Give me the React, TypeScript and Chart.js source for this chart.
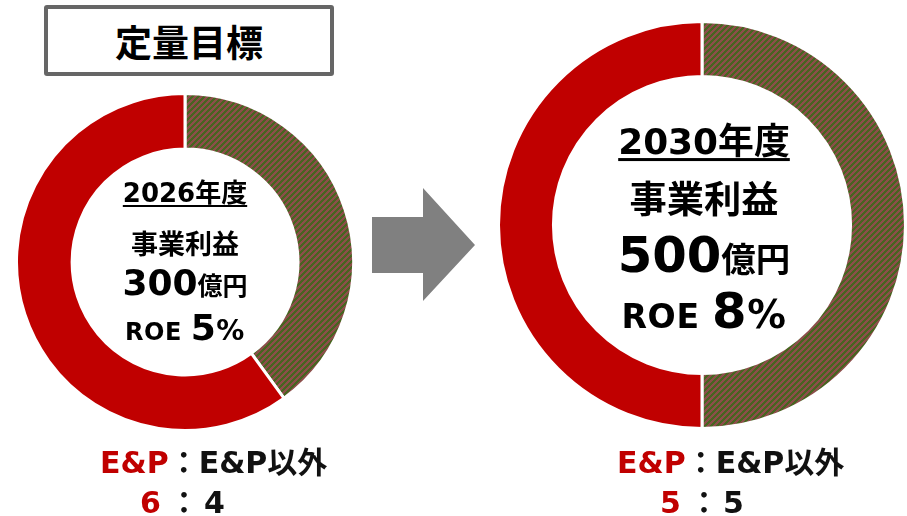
import React, { useEffect, useRef } from 'react';
import { Chart, registerables } from 'chart.js';

Chart.register(...registerables);

// ---- data ----
const categories = ['E&P以外', 'E&P'];
const values2026 = [4, 6];
const values2030 = [5, 5];
const yearLabels = ['2026年度', '2030年度'];
const profitValues = ['300', '500'];
const roeValues = ['5', '8'];
const ratio2026 = ['6', '4'];
const ratio2030 = ['5', '5'];

const RED = '#C00000';
const FONT = '"DejaVu Sans", "Noto Sans CJK JP", sans-serif';

function makePattern(ctx: CanvasRenderingContext2D) {
  const s = 6;
  const c = document.createElement('canvas');
  c.width = s;
  c.height = s;
  const g = c.getContext('2d')!;
  const img = g.createImageData(s, s);
  for (let y = 0; y < s; y++) {
    for (let x = 0; x < s; x++) {
      const k = (x + y) % s;
      const i = (y * s + x) * 4;
      const col = k < 3 ? [72, 100, 32] : [140, 78, 74];
      img.data[i] = col[0];
      img.data[i + 1] = col[1];
      img.data[i + 2] = col[2];
      img.data[i + 3] = 255;
    }
  }
  g.putImageData(img, 0, 0);
  return ctx.createPattern(c, 'repeat')!;
}

function Ring(props: { values: number[]; size: number; left: number; top: number; cutout: string }) {
  const ref = useRef<HTMLCanvasElement>(null);
  useEffect(() => {
    const canvas = ref.current!;
    const ctx = canvas.getContext('2d')!;
    const pattern = makePattern(ctx);
    const chart = new Chart(canvas, {
      type: 'doughnut',
      data: {
        labels: categories,
        datasets: [
          {
            data: props.values,
            backgroundColor: [pattern, RED],
            borderColor: '#ffffff',
            borderWidth: 3,
            hoverOffset: 0,
          },
        ],
      },
      options: {
        animation: false,
        responsive: false,
        maintainAspectRatio: false,
        cutout: props.cutout,
        layout: { padding: 0 },
        plugins: { legend: { display: false }, tooltip: { enabled: false } },
        events: [],
      },
    });
    return () => chart.destroy();
  }, []);
  return (
    <canvas
      ref={ref}
      width={props.size}
      height={props.size}
      style={{ position: 'absolute', left: props.left, top: props.top, width: props.size, height: props.size }}
    />
  );
}

const centered = (x: number, y: number): React.CSSProperties => ({
  position: 'absolute',
  left: x,
  top: y,
  transform: 'translate(-50%, -50%)',
  whiteSpace: 'nowrap',
  fontFamily: FONT,
  fontWeight: 'bold',
  color: '#000',
  lineHeight: 1,
});

function CenterText(props: { cx: number; scale: number; yYear: number; yProfit: number; yValue: number; yRoe: number; idx: number }) {
  const s = props.scale;
  return (
    <>
      <div
        style={{
          ...centered(props.cx, props.yYear),
          fontSize: 26 * s,
          textDecoration: 'underline',
          textDecorationThickness: 2 * s,
          textUnderlineOffset: 3 * s,
        }}
      >
        {yearLabels[props.idx]}
      </div>
      <div style={{ ...centered(props.cx, props.yProfit), fontSize: 27 * s }}>事業利益</div>
      <div style={{ ...centered(props.cx, props.yValue), fontSize: 25 * s }}>
        <span style={{ fontSize: 36 * s }}>{profitValues[props.idx]}</span>億円
      </div>
      <div style={{ ...centered(props.cx, props.yRoe), fontSize: 24 * s, letterSpacing: 0.5 * s }}>
        ROE <span style={{ fontSize: 36 * s }}>{roeValues[props.idx]}</span>
        <span style={{ fontSize: 28 * s }}>%</span>
      </div>
    </>
  );
}

function Ratio(props: { x: number; y: number; nums: string[]; numX: number[] }) {
  const base: React.CSSProperties = {
    position: 'absolute',
    whiteSpace: 'pre',
    fontFamily: FONT,
    fontWeight: 'bold',
    fontSize: 30,
    lineHeight: 1,
  };
  return (
    <>
      <div style={{ ...base, left: props.x, top: props.y }}>
        <span style={{ color: RED }}>E&amp;P</span>
        <span style={{ color: '#111' }}>：E&amp;P以外</span>
      </div>
      <div style={{ ...base, left: props.numX[0], top: props.y + 40, color: RED }}>{props.nums[0]}</div>
      <div style={{ ...base, left: props.numX[1], top: props.y + 40, color: '#111' }}>：</div>
      <div style={{ ...base, left: props.numX[2], top: props.y + 40, color: '#111' }}>{props.nums[1]}</div>
    </>
  );
}

export default function App() {
  useEffect(() => {
    document.body.style.margin = '0';
  }, []);
  return (
    <div style={{ position: 'relative', width: 907, height: 516, background: '#fff', overflow: 'hidden' }}>
      <div
        style={{
          position: 'absolute',
          left: 44,
          top: 5,
          width: 290,
          height: 71,
          boxSizing: 'border-box',
          border: '4px solid #666666',
          borderRadius: 3,
          display: 'flex',
          alignItems: 'center',
          justifyContent: 'center',
          fontFamily: FONT,
          fontWeight: 'bold',
          fontSize: 37,
          color: '#000',
        }}
      >
        定量目標
      </div>

      <Ring values={values2026} size={340} left={15} top={92} cutout="67%" />
      <Ring values={values2030} size={410} left={497} top={20} cutout="73%" />

      <CenterText cx={185} scale={1} yYear={193} yProfit={244} yValue={283} yRoe={328} idx={0} />
      <CenterText cx={704} scale={1.38} yYear={142} yProfit={201} yValue={256} yRoe={312} idx={1} />

      <svg width={907} height={516} style={{ position: 'absolute', left: 0, top: 0, pointerEvents: 'none' }}>
        <polygon points="372,217 423,217 423,188 475,245 423,301 423,273 372,273" fill="#808080" />
      </svg>

      <Ratio x={100} y={448} nums={ratio2026} numX={[140, 169, 204]} />
      <Ratio x={617} y={448} nums={ratio2030} numX={[660, 689, 723]} />
    </div>
  );
}
